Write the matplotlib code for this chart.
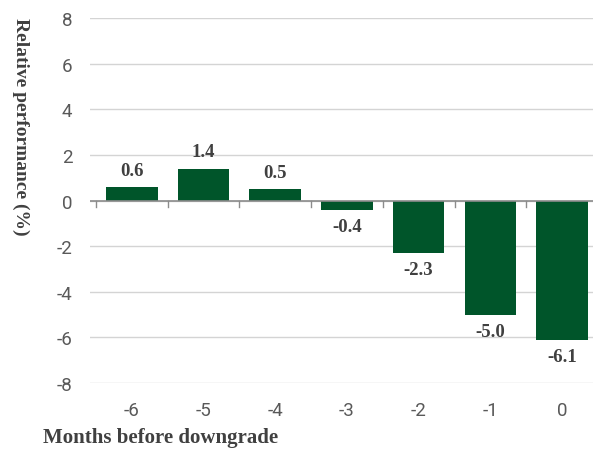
import numpy as np
import matplotlib
matplotlib.use("Agg")
import matplotlib.pyplot as plt

#--------------------------------------------
# data
months = ["-6", "-5", "-4", "-3", "-2", "-1", "0"]
rel_perf = [0.6, 1.4, 0.5, -0.4, -2.3, -5.0, -6.1]
y_ticks = [-8, -6, -4, -2, 0, 2, 4, 6, 8]

bar_color = "#00552a"
label_color = "#404040"
tick_color = "#595959"

#--------------------------------------------
# figure
fig = plt.figure(figsize=(5.93, 4.52), dpi=100)
ax = fig.add_axes([0.1523, 0.1504, 0.856, 0.807])

x = np.arange(len(months))
ax.bar(x, rel_perf, width=0.72, color=bar_color, zorder=3)

ax.set_xlim(-0.58, 6.5)
ax.set_ylim(-8, 8)
ax.set_yticks(y_ticks)
ax.set_yticklabels([str(v) for v in y_ticks])
ax.grid(axis="y", color="#d4d4d4", linewidth=1.0, zorder=0)
ax.axhline(0, color="#8c8c8c", linewidth=1.2, zorder=4)

for s in ax.spines.values():
    s.set_visible(False)

# category labels at bottom, boundary tick marks on the zero line
ax.set_xticks(x)
ax.set_xticklabels(months)
ax.tick_params(axis="x", length=0, pad=13, labelsize=13.5, labelcolor=tick_color)
ax.tick_params(axis="y", length=0, pad=13, labelsize=13.5, labelcolor=tick_color)
for t in ax.get_xticklabels() + ax.get_yticklabels():
    t.set_family("Roboto")
for b in np.arange(-0.5, 6.6, 1.0):
    ax.plot([b, b], [0, -0.28], color="#8c8c8c", linewidth=1.0, zorder=4, clip_on=False)

# value labels
for xi, v in zip(x, rel_perf):
    if v >= 0:
        ax.annotate("%.1f" % v, (xi, v), xytext=(0, 6), textcoords="offset points",
                    ha="center", va="bottom", family="Liberation Serif",
                    weight="bold", fontsize=13.5, color=label_color)
    else:
        ax.annotate("%.1f" % v, (xi, v), xytext=(0, -6), textcoords="offset points",
                    ha="center", va="top", family="Liberation Serif",
                    weight="bold", fontsize=13.5, color=label_color)

fig.text(0.034, 0.719, "Relative performance (%)", rotation=270, ha="center", va="center",
         family="Liberation Serif", weight="bold", fontsize=14, color=label_color)
fig.text(0.073, 0.008, "Months before downgrade", ha="left", va="bottom",
         family="Liberation Serif", weight="bold", fontsize=15, color=label_color)

fig.savefig("out.png", dpi=100)
